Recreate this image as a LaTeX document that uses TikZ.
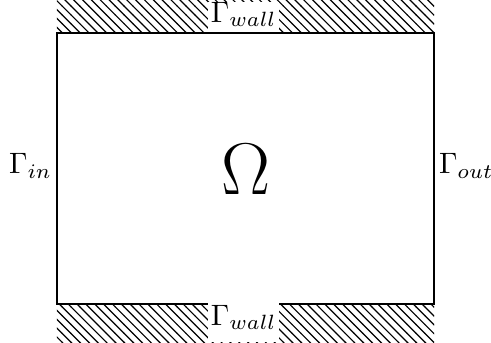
\documentclass[tikz,border=0pt]{standalone}
\usepackage{amsmath,amssymb}
\usepackage{tikz}
\usetikzlibrary{patterns}

\begin{document}
\begin{tikzpicture}[
  wall/.style={pattern=north west lines, draw=none},
  bnd/.style={inner sep=1.5pt},
  walllabel/.style={fill=white, inner xsep=1pt, inner ysep=0pt, anchor=base}
]
\useasboundingbox (-0.679, -0.453) rectangle (5.172, 3.623);

% ── Hatched walls ──
\path[wall] (0, 3.230) rectangle (4.493, 3.623);
\path[wall] (0, -0.453) rectangle (4.493, 0);

% ── Domain ──
\draw (0, 0) rectangle (4.493, 3.230);

\node[font=\Huge] (omega) at (2.25, 1.6) {$\Omega$};

% ── Boundaries ──
\node[bnd, anchor=base east] (gin)  at (0, 1.55) {$\Gamma_{in}$};
\node[bnd, anchor=base west] (gout) at (4.493, 1.55) {$\Gamma_{out}$};
\node[walllabel, text height=6.8pt, text depth=3.2pt] (gtop) at (2.225, 3.355) {$\Gamma_{wall}$};
\node[walllabel, text height=8.1pt, text depth=5.8pt] (gbot) at (2.225, -0.25) {$\Gamma_{wall}$};

\end{tikzpicture}
\end{document}
